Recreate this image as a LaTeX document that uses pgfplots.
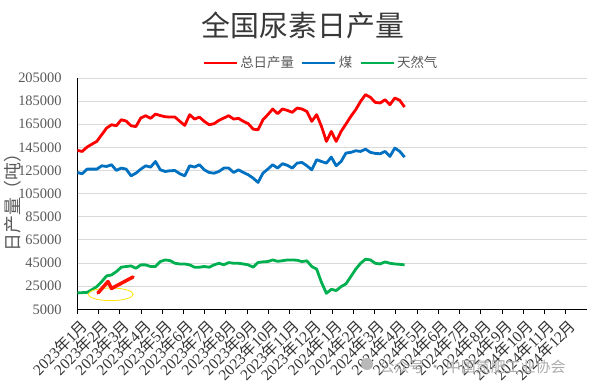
\documentclass[border=0pt]{standalone}
\usepackage{fontspec}
\setmainfont{Liberation Serif}
\newfontfamily\cjk{Noto Sans CJK SC}
\usepackage{pgfplots}
\usepackage{pgfplotstable}
\pgfplotsset{compat=1.18}
\definecolor{cred}{HTML}{FF0000}
\definecolor{cblue}{HTML}{0070C0}
\definecolor{cgreen}{HTML}{00B050}
\definecolor{txt}{HTML}{595959}
\definecolor{gridc}{HTML}{D9D9D9}
\newcommand\ym[2]{#1{\cjk 年}#2{\cjk 月}}
\pgfplotstableread{
x total coal gas
0.00 142400 123300 19400
0.23 141500 122200 19400
0.46 145300 126200 19600
0.69 147800 126200 22000
0.92 150200 126200 24600
1.15 156000 129100 28950
1.38 161700 128500 33900
1.61 164600 130000 34700
1.84 163700 125100 37600
2.07 168900 127100 41400
2.30 167800 126200 42000
2.53 163700 120400 42500
2.76 163000 122700 40500
2.99 170400 126200 43400
3.22 172400 129100 43400
3.45 170100 127900 42000
3.68 173800 132800 42000
3.91 172500 125600 46300
4.14 171500 124200 47700
4.37 171200 124800 47100
4.60 171200 125000 44800
4.83 167500 122200 44200
5.06 164000 120400 44200
5.29 173300 129100 43400
5.52 169500 128000 41400
5.75 171200 130000 41400
5.98 167500 125600 42000
6.21 164600 123300 41400
6.44 165500 122700 43400
6.67 168400 124200 44800
6.90 170400 127100 43500
7.13 172400 127100 45400
7.36 169500 123300 44800
7.59 170100 125600 44800
7.82 167500 123300 44200
8.05 165500 121300 43400
8.28 160800 118400 41400
8.51 160200 114700 45500
8.74 168900 122700 46000
8.97 173300 126200 46300
9.20 178200 130000 47700
9.43 174100 127100 46500
9.66 178200 130900 47000
9.89 177000 129500 47700
10.12 175300 127100 47700
10.35 179000 131400 47400
10.58 178200 132000 46300
10.81 176100 129100 46900
11.04 167500 125600 42000
11.27 173300 134300 39700
11.50 163000 132800 28200
11.73 150200 131400 18800
11.96 158800 136600 22300
12.19 150200 129100 21200
12.42 158800 132800 24600
12.65 165200 140100 27000
12.88 171800 140700 33300
13.11 177600 142100 39700
13.34 184800 141500 44800
13.57 190600 143500 48300
13.80 188300 140700 47700
14.03 183900 139800 44800
14.26 183400 139500 44200
14.49 186200 141500 46000
14.72 181900 137200 44800
14.95 187700 144400 44200
15.18 185700 141600 43900
15.41 179900 136600 43400
}\datatable
\begin{document}
\begin{tikzpicture}[x=1bp,y=1bp]
\useasboundingbox (0,0) rectangle (599,389);
% title
\node[text=black!78, font=\cjk\fontsize{29}{32}\selectfont] at (303,364) {全国尿素日产量};
% y label
\node[rotate=90, text=txt, font=\cjk\fontsize{18}{20}\selectfont] at (12.5,191) {日产量（吨）};
\begin{axis}[
  at={(77.3bp,79.7bp)}, anchor=south west,
  scale only axis, width=509.7bp, height=231.3bp,
  xmin=0, xmax=24, ymin=5000, ymax=205000,
  scaled y ticks=false,
  ytick={5000,25000,45000,65000,85000,105000,125000,145000,165000,185000,205000},
  yticklabels={5000,25000,45000,65000,85000,105000,125000,145000,165000,185000,205000},
  xtick={0,...,23},
  xticklabels={\ym{2023}{1},\ym{2023}{2},\ym{2023}{3},\ym{2023}{4},\ym{2023}{5},\ym{2023}{6},\ym{2023}{7},\ym{2023}{8},\ym{2023}{9},\ym{2023}{10},\ym{2023}{11},\ym{2023}{12},\ym{2024}{1},\ym{2024}{2},\ym{2024}{3},\ym{2024}{4},\ym{2024}{5},\ym{2024}{6},\ym{2024}{7},\ym{2024}{8},\ym{2024}{9},\ym{2024}{10},\ym{2024}{11},\ym{2024}{12}},
  axis x line=bottom, axis y line=left,
  axis line style={-, black, line width=1.3bp},
  tick align=outside, major tick length=5bp,
  xtick style={black, line width=1bp},
  ytick style={draw=none},
  ymajorgrids, grid style={gridc, line width=0.9bp},
  yticklabel style={text=txt, font=\fontsize{14.5}{16}\selectfont, inner sep=0pt, xshift=-10.5bp},
  xticklabel style={text=black!80, font=\fontsize{15.5}{17}\selectfont, rotate=45, anchor=east, inner sep=0pt, xshift=-1bp, yshift=-11bp},
  legend style={at={(0.478,1.065)}, anchor=center, draw=none, fill=none, legend columns=-1,
    font=\cjk\fontsize{13.5}{15}\selectfont, text=txt,
    /tikz/every even column/.append style={column sep=5bp}},
  legend image code/.code={\draw[#1] (0bp,0bp) -- (33bp,0bp);},
  every axis plot/.append style={line width=2.8bp, line join=round},
]
\addplot[cred, mark=none] table[x=x, y=total] {\datatable};
\addlegendentry{总日产量}
\addplot[cblue, mark=none] table[x=x, y=coal] {\datatable};
\addlegendentry{煤}
\addplot[cgreen, mark=none] table[x=x, y=gas] {\datatable};
\addlegendentry{天然气}
\end{axis}
% logo inside plot
\draw[yellow!85!orange, line width=0.8bp] (110.7,94.7) ellipse [x radius=22.5, y radius=6.3];
\draw[red!85!orange, line width=3.5bp, line join=round, line cap=round] (98,96) -- (108,107.5) -- (111.5,100.5) -- (133,112);
% watermark
\fill[gray!55] (367,25) circle (6);
\node[text=gray!65, font=\cjk\fontsize{15}{17}\selectfont, anchor=west] at (376,22) {公众号 · 中国氮肥工业协会};
\end{tikzpicture}
\end{document}
